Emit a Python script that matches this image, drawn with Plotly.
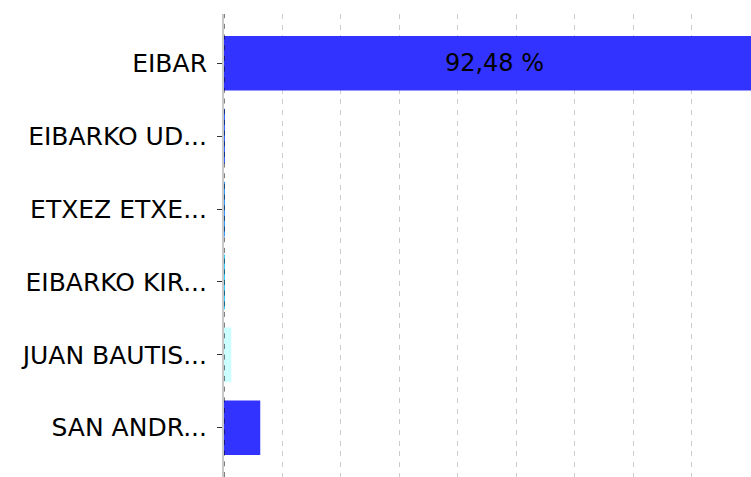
import plotly.graph_objects as go

categories = ["EIBAR", "EIBARKO UD...", "ETXEZ ETXE...", "EIBARKO KIR...", "JUAN BAUTIS...", "SAN ANDR..."]
values = [92.48, 0.02, 0.03, 0.02, 1.25, 6.20]
colors = ["#3333FF", "#3366FF", "#3399FF", "#33CCFF", "#CCFFFF", "#3333FF"]
labels = [f"{v:.2f}".replace(".", ",") + " %" for v in values]

FONT = "DejaVu Sans"

fig = go.Figure()
fig.add_trace(go.Bar(
    y=categories,
    x=values,
    orientation="h",
    marker=dict(color=colors, line=dict(width=0)),
    text=labels,
    textposition="inside",
    insidetextanchor="middle",
    insidetextfont=dict(family=FONT, size=24, color="black"),
    cliponaxis=True,
    hoverinfo="skip",
))

fig.add_vline(x=0, line=dict(color="black", width=1, dash="5px,5.67px"), layer="above")

fig.update_layout(
    width=751,
    height=477,
    margin=dict(l=224, r=0, t=14, b=0),
    paper_bgcolor="white",
    plot_bgcolor="white",
    bargap=0.25,
    showlegend=False,
    uniformtext=dict(minsize=24, mode="hide"),
    font=dict(family=FONT, size=25, color="black"),
    xaxis=dict(
        range=[0, 90.1],
        dtick=10,
        showgrid=True,
        gridcolor="#cccccc",
        gridwidth=1,
        griddash="5px,5.67px",
        zeroline=False,
        showticklabels=False,
        showline=False,
        fixedrange=True,
    ),
    yaxis=dict(
        type="category",
        categoryorder="array",
        categoryarray=categories,
        range=[5.676, -0.676],
        showgrid=False,
        zeroline=False,
        showline=True,
        linecolor="#c8c8c8",
        linewidth=2,
        ticks="outside",
        ticklen=5,
        tickwidth=1,
        tickcolor="#333333",
        ticklabelstandoff=5,
        tickfont=dict(family=FONT, size=25, color="black"),
        fixedrange=True,
    ),
)

fig.write_html(
    "out.html",
    config={"displayModeBar": False},
    post_script="document.body.style.margin='0';document.body.style.overflow='hidden';",
)
